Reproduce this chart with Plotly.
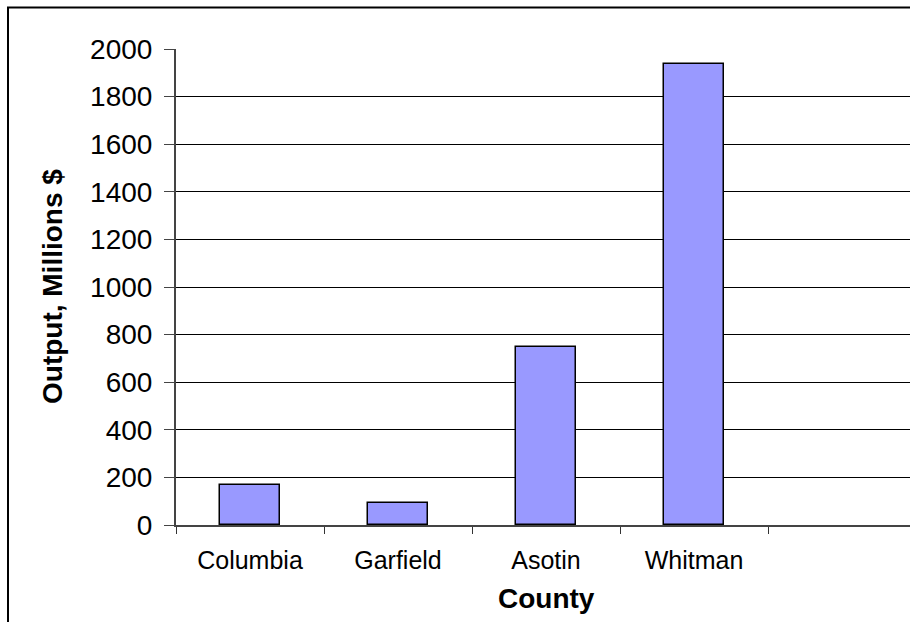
import plotly.graph_objects as go

counties = ["Columbia", "Garfield", "Asotin", "Whitman"]
output_millions = [168, 91, 750, 1936]
y_ticks = [0, 200, 400, 600, 800, 1000, 1200, 1400, 1600, 1800, 2000]

W, H = 910, 622
L, T, B = 176, 49, 97
plot_w = W - L
plot_h = H - T - B
cat_w = 148.0

fig = go.Figure()
fig.add_trace(go.Bar(
    x=counties, y=output_millions,
    width=0.4,
    marker=dict(color="#9999FF", line=dict(color="black", width=1.5)),
))

font = "Liberation Sans, Arial, sans-serif"

def px_x(p):
    return (p - L) / plot_w

def px_y(p):
    return (H - B - p) / plot_h

fig.update_layout(
    width=W, height=H,
    margin=dict(l=L, r=0, t=T, b=B),
    paper_bgcolor="white", plot_bgcolor="white",
    showlegend=False,
    bargap=0,
    xaxis=dict(
        type="category",
        categoryorder="array", categoryarray=counties,
        range=[-0.5, -0.5 + plot_w / cat_w],
        tickson="boundaries",
        ticks="outside", ticklen=7, tickcolor="#333", tickwidth=1,
        showgrid=False,
        showline=True, linecolor="#444", linewidth=2,
        tickfont=dict(family=font, size=25, color="black"),
        ticklabelstandoff=12,
        zeroline=False,
    ),
    yaxis=dict(
        range=[0, 2000],
        tickvals=y_ticks,
        ticks="outside", ticklen=10, tickcolor="#444", tickwidth=1,
        showgrid=True, gridcolor="black", gridwidth=1,
        showline=True, linecolor="#444", linewidth=2,
        tickfont=dict(family=font, size=28, color="black"),
        ticklabelstandoff=6,
        zeroline=False,
    ),
    shapes=[
        dict(type="rect", xref="paper", yref="paper",
             x0=px_x(8), x1=px_x(W + 40), y0=px_y(H + 40), y1=px_y(7.5),
             line=dict(color="black", width=2), fillcolor="rgba(0,0,0,0)", layer="above"),
    ],
    annotations=[
        dict(text="<b>Output, Millions $</b>", xref="paper", yref="paper",
             x=px_x(52), y=0.5, xanchor="center", yanchor="middle",
             textangle=-90, showarrow=False,
             font=dict(family=font, size=28, color="black")),
        dict(text="<b>County</b>", xref="paper", yref="paper",
             x=px_x(L + 2.5 * cat_w), y=px_y(598),
             xanchor="center", yanchor="middle", showarrow=False,
             font=dict(family=font, size=28, color="black")),
    ],
)

fig.write_html("out.html")
